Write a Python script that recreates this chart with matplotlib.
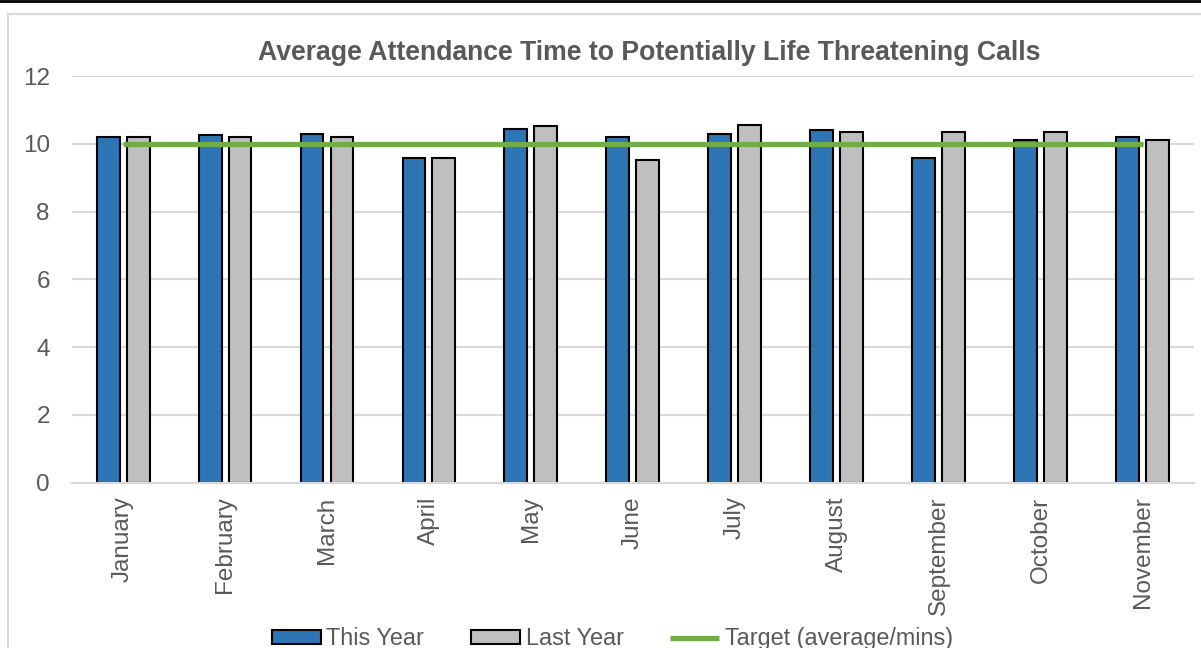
import numpy as np
import matplotlib.pyplot as plt
from matplotlib.lines import Line2D

months = ['January', 'February', 'March', 'April', 'May', 'June',
          'July', 'August', 'September', 'October', 'November']
this_year = [10.21, 10.27, 10.30, 9.57, 10.45, 10.21, 10.28, 10.42, 9.57, 10.10, 10.20]
last_year = [10.20, 10.20, 10.20, 9.58, 10.51, 9.53, 10.55, 10.34, 10.35, 10.35, 10.10]
target = [10] * 11

plt.rcParams['font.family'] = ['Liberation Sans', 'DejaVu Sans']
grey = '#595959'

fig = plt.figure(figsize=(12.01, 6.48), dpi=100)
ax = fig.add_axes([0.06, 0.2554, 0.934, 0.6273])

x = np.arange(len(months))
w = 0.225
b1 = ax.bar(x - 0.147, this_year, w, color='#2E75B6', edgecolor='black', linewidth=1.5,
            label='This Year', zorder=2)
b2 = ax.bar(x + 0.147, last_year, w, color='#BFBFBF', edgecolor='black', linewidth=1.5,
            label='Last Year', zorder=2)
ln, = ax.plot(x, target, color='#70AD47', linewidth=3.8, label='Target (average/mins)',
              zorder=3, solid_capstyle='butt')

ax.set_xlim(-0.5, len(months) - 0.5)
ax.set_ylim(0, 12)
ax.set_yticks(range(0, 13, 2))
ax.yaxis.grid(True, color='#d9d9d9', linewidth=1.5)
ax.set_axisbelow(True)
for s in ['top', 'right', 'left']:
    ax.spines[s].set_visible(False)
ax.spines['bottom'].set_color('#d9d9d9')
ax.spines['bottom'].set_linewidth(1.5)
ax.set_xticks(x)
ax.set_xticklabels(months, rotation=90)
ax.tick_params(axis='both', length=0, labelsize=17.5, labelcolor=grey)
ax.tick_params(axis='x', pad=10)
ax.tick_params(axis='y', pad=16)

fig.text(0.541, 0.918, 'Average Attendance Time to Potentially Life Threatening Calls',
         ha='center', va='center', fontsize=19.2, fontweight='bold', color=grey)

fig.legend([b1, b2, ln], ['This Year', 'Last Year', 'Target (average/mins)'],
           loc='center', bbox_to_anchor=(0.51, 0.014), ncol=3, frameon=False,
           fontsize=16.8, labelcolor=grey, handlelength=2.1, handleheight=0.55,
           handletextpad=0.25, columnspacing=2.0)

# chart border and top rule
fig.add_artist(Line2D([8 / 1201, 8 / 1201], [0, 1 - 14 / 648], color='#d9d9d9',
                      linewidth=1.5, transform=fig.transFigure))
fig.add_artist(Line2D([8 / 1201, 1], [1 - 14 / 648, 1 - 14 / 648], color='#d9d9d9',
                      linewidth=1.5, transform=fig.transFigure))
fig.add_artist(Line2D([0, 1], [0.999, 0.999], color='black', linewidth=2,
                      transform=fig.transFigure))

fig.savefig('out.png', dpi=100)
